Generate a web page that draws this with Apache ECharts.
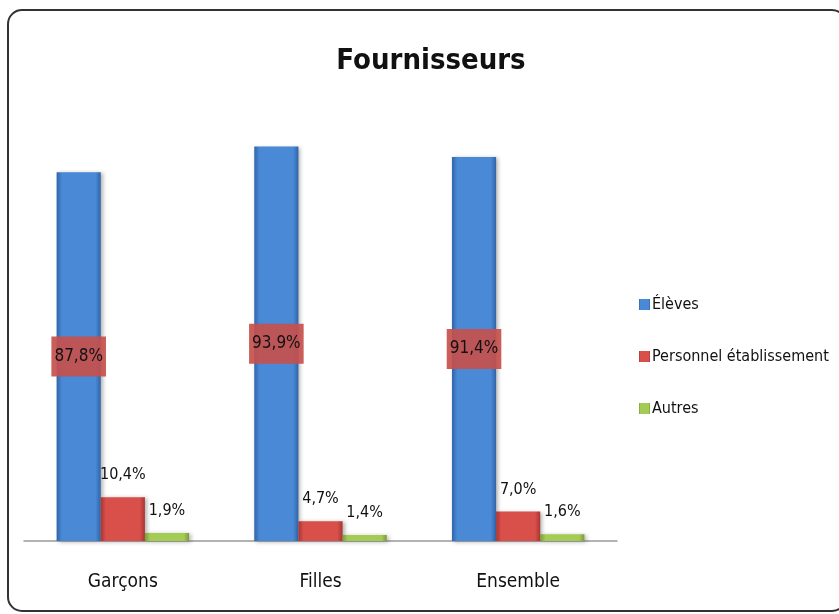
<!DOCTYPE html>
<html>
<head>
<meta charset="utf-8">
<script src="https://cdn.jsdelivr.net/npm/echarts@6/dist/echarts.min.js"></script>
<style>
  html, body { margin: 0; padding: 0; background: #fff; }
  #chart { width: 839px; height: 614px; }
</style>
</head>
<body>
<div id="chart"></div>
<script>
const categories = ['Garçons', 'Filles', 'Ensemble']
const seriesNames = ['Élèves', 'Personnel établissement', 'Autres']
const eleves = [87.8, 93.9, 91.4]
const personnel = [10.4, 4.7, 7.0]
const autres = [1.9, 1.4, 1.6]

const FONT = '"DejaVu Sans Condensed", "Liberation Sans", sans-serif'

const mChart = echarts.init(document.getElementById('chart'))

// dégradé horizontal pour imiter le biseau
const bevel = (edge, mid) => new echarts.graphic.LinearGradient(0, 0, 1, 0, [
    { offset: 0, color: edge },
    { offset: 0.12, color: mid },
    { offset: 0.88, color: mid },
    { offset: 1, color: edge }
])

const fmt = (p) => p.value.toFixed(1).replace('.', ',') + '%'

const outsideLabel = {
    show: true,
    position: 'top',
    distance: 14,
    formatter: fmt,
    fontFamily: FONT,
    fontSize: 16,
    color: '#111'
}

const options = {
    animation: false,
    title: {
        text: 'Fournisseurs',
        left: 426,
        top: 42,
        textAlign: 'center',
        textStyle: {
            fontFamily: FONT,
            fontSize: 29,
            fontWeight: 'bold',
            color: '#111'
        }
    },
    legend: {
        orient: 'vertical',
        left: 634,
        top: 291,
        icon: 'rect',
        itemWidth: 11,
        itemHeight: 11,
        itemGap: 35,
        data: seriesNames,
        textStyle: {
            fontFamily: FONT,
            fontSize: 16,
            lineHeight: 17,
            color: '#111',
            padding: [0, 0, 0, -3]
        }
    },
    graphic: [{
        type: 'rect',
        shape: { x: 8, y: 10, width: 838, height: 601, r: 14 },
        style: { fill: 'none', stroke: '#333', lineWidth: 2 },
        silent: true
    }],
    grid: {
        left: 24,
        right: 222,
        top: 121,
        bottom: 73
    },
    xAxis: {
        type: 'category',
        data: categories,
        axisLine: { show: true, lineStyle: { color: '#999', width: 1.5 } },
        axisTick: { show: false },
        axisLabel: {
            margin: 32,
            fontFamily: FONT,
            fontSize: 19,
            color: '#111'
        }
    },
    yAxis: {
        type: 'value',
        min: 0,
        max: 100,
        show: false
    },
    series: [
        {
            name: seriesNames[0],
            type: 'bar',
            data: eleves,
            barGap: '0%',
            barCategoryGap: '33%',
            itemStyle: {
                color: bevel('#2f64a8', '#4a89d6'),
                shadowBlur: 4,
                shadowOffsetX: 2,
                shadowOffsetY: 1,
                shadowColor: 'rgba(0,0,0,0.3)'
            },
            label: {
                show: true,
                position: 'inside',
                formatter: fmt,
                fontFamily: FONT,
                fontSize: 17,
                color: '#111',
                backgroundColor: 'rgba(197,80,77,0.92)',
                padding: [12, 3, 11, 3]
            }
        },
        {
            name: seriesNames[1],
            type: 'bar',
            data: personnel,
            itemStyle: {
                color: bevel('#a93532', '#d9504b'),
                shadowBlur: 4,
                shadowOffsetX: 2,
                shadowOffsetY: 1,
                shadowColor: 'rgba(0,0,0,0.3)'
            },
            label: outsideLabel
        },
        {
            name: seriesNames[2],
            type: 'bar',
            data: autres,
            itemStyle: {
                color: bevel('#7c9b3a', '#a4cc54'),
                shadowBlur: 4,
                shadowOffsetX: 2,
                shadowOffsetY: 1,
                shadowColor: 'rgba(0,0,0,0.3)'
            },
            label: outsideLabel
        }
    ]
}

mChart.setOption(options)
</script>
</body>
</html>
